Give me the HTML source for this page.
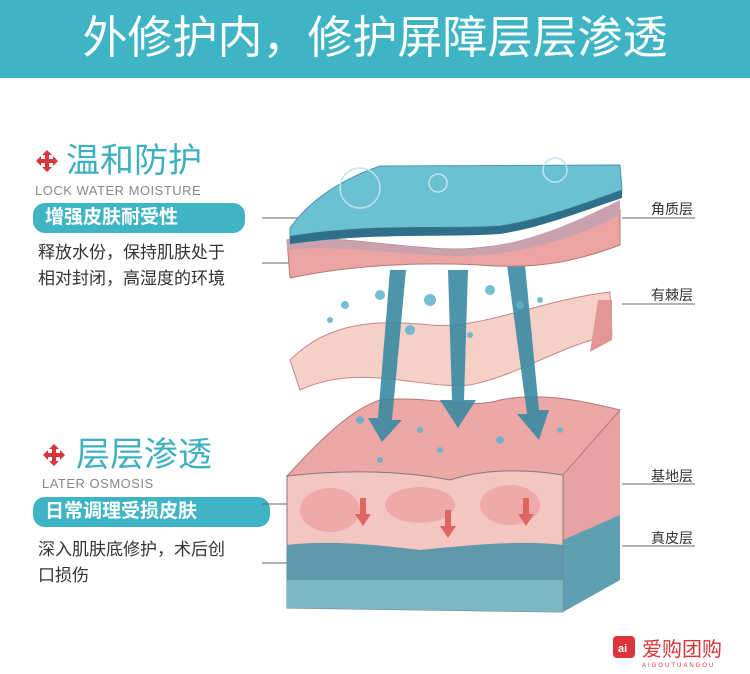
<!DOCTYPE html>
<html><head><meta charset="utf-8"><style>
body{margin:0;width:750px;height:674px;background:#fff;overflow:hidden;position:relative;font-family:"Liberation Sans","Noto Sans CJK SC",sans-serif}
.hdr{position:absolute;left:0;top:0;width:750px;height:78px;background:#3fb4c4;color:#fff;font-size:45px;text-align:center;line-height:76px;letter-spacing:0}
.t{position:absolute;color:#3fb0c0;font-size:34px;line-height:40px}
.en{position:absolute;color:#888;font-size:13px;letter-spacing:.5px}
.pill{position:absolute;background:#3fb4c4;color:#fff;font-size:19px;border-radius:12px;height:30px;line-height:30px;padding-left:12px;font-weight:bold}
.body{position:absolute;color:#333;font-size:17px;line-height:26px}
.lab{position:absolute;color:#333;font-size:14px}
.cross{position:absolute;width:24px;height:24px}
</style></head><body>
<div class="hdr">外修护内，修护屏障层层渗透</div>
<svg class="cross" style="left:35px;top:149px" viewBox="0 0 24 24"><path d="M12 1l5 5h-3v4h4V7l5 5-5 5v-3h-4v4h3l-5 5-5-5h3v-4H6v3l-5-5 5-5v3h4V6H7z" fill="#d9353a"/></svg>
<div class="t" style="left:66px;top:141px">温和防护</div>
<div class="en" style="left:35px;top:183px">LOCK WATER MOISTURE</div>
<div class="pill" style="left:33px;top:203px;width:200px">增强皮肤耐受性</div>
<div class="body" style="left:38px;top:240px">释放水份，保持肌肤处于<br>相对封闭，高湿度的环境</div>
<svg class="cross" style="left:42px;top:443px" viewBox="0 0 24 24"><path d="M12 1l5 5h-3v4h4V7l5 5-5 5v-3h-4v4h3l-5 5-5-5h3v-4H6v3l-5-5 5-5v3h4V6H7z" fill="#d9353a"/></svg>
<div class="t" style="left:76px;top:435px">层层渗透</div>
<div class="en" style="left:42px;top:476px">LATER OSMOSIS</div>
<div class="pill" style="left:33px;top:497px;width:225px">日常调理受损皮肤</div>
<div class="body" style="left:38px;top:537px">深入肌肤底修护，术后创<br>口损伤</div>
<div class="lab" style="left:651px;top:199px">角质层</div>
<div class="lab" style="left:651px;top:285px">有棘层</div>
<div class="lab" style="left:651px;top:466px">基地层</div>
<div class="lab" style="left:651px;top:528px">真皮层</div>
<svg style="position:absolute;left:0;top:0" width="750" height="674">
<g stroke="#666" stroke-width="1"><line x1="262" y1="218" x2="316" y2="218"/><line x1="262" y1="263" x2="316" y2="263"/><line x1="622" y1="218" x2="695" y2="218"/><line x1="622" y1="304" x2="695" y2="304"/><line x1="622" y1="484" x2="695" y2="484"/><line x1="622" y1="546" x2="695" y2="546"/><line x1="262" y1="504" x2="315" y2="504"/><line x1="262" y1="563" x2="315" y2="563"/></g>
<path d="M563 415 L620 410 L620 580 L563 612 Z" fill="#e7a3a3"/>
<path d="M563 540 L620 515 L620 580 L563 612 Z" fill="#5e9fb2"/>
<path d="M287 476 C320 440 350 410 380 400 C430 395 470 410 500 400 C540 392 580 400 620 410 L563 475 C520 468 480 470 450 480 C400 470 340 470 287 476Z" fill="#eda7a7" stroke="#b07a7a" stroke-width="1"/>
<path d="M287 476 C340 470 400 470 450 480 C480 470 520 468 563 475 L563 612 L287 608 Z" fill="#f4c6c2" stroke="#8a7a7a"/>
<ellipse cx="330" cy="510" rx="30" ry="22" fill="#eeaaa8"/><ellipse cx="420" cy="505" rx="35" ry="18" fill="#eeaaa8"/><ellipse cx="510" cy="505" rx="30" ry="20" fill="#eeaaa8"/>
<path d="M287 545 C330 540 380 545 420 550 C470 545 520 540 563 545 L563 580 L287 580Z" fill="#5f98ab"/>
<path d="M287 580 L563 580 L563 612 L287 608Z" fill="#7ab8c6"/>
<g fill="#e06464"><path d="M360 498h6v16h5l-8 12-8-12h5z"/><path d="M445 510h6v16h5l-8 12-8-12h5z"/><path d="M523 498h6v16h5l-8 12-8-12h5z"/></g>
<path d="M290 360 C330 320 380 320 430 325 C480 330 540 300 610 292 L612 335 C560 345 520 375 470 385 C420 390 360 362 300 390 Z" fill="#f6cfc7" stroke="#c08a8a"/>
<path d="M598 300 L612 300 L612 340 L590 352Z" fill="#e49696"/>
<g fill="#3a8aa3" opacity=".9"><path d="M390 270h16l-14 150h10l-20 22-14-24h10z"/><path d="M448 270h20l-4 130h12l-18 28-18-28h12z"/><path d="M507 265h18l14 145h10l-10 30-22-26h10z"/></g>
<path d="M287 240 C330 235 380 245 430 248 C500 255 560 230 620 210 L620 245 C580 260 540 270 480 265 C420 262 350 265 290 278 Z" fill="#eca4a2" stroke="#b07a7a"/>
<path d="M287 240 C330 235 380 245 430 248 C500 255 560 230 620 200 L620 215 C560 245 500 260 430 255 C380 252 330 245 287 250Z" fill="#c9a2ad"/>
<path d="M290 228 C310 200 340 180 380 166 L620 165 L622 190 C580 205 540 220 500 226 C440 230 380 222 290 240 Z" fill="#6bc1d3" stroke="#4a96aa"/>
<path d="M290 236 C380 222 440 230 500 226 C540 220 580 205 622 190 L622 198 C580 212 540 228 500 234 C440 238 380 232 290 244Z" fill="#2f6f8a"/>
<g fill="#5db3cc" opacity=".85"><circle cx="380" cy="295" r="5"/><circle cx="345" cy="305" r="4"/><circle cx="430" cy="300" r="6"/><circle cx="490" cy="290" r="5"/><circle cx="520" cy="305" r="4"/><circle cx="330" cy="320" r="3"/><circle cx="410" cy="330" r="5"/><circle cx="470" cy="335" r="3"/><circle cx="540" cy="300" r="3"/><circle cx="360" cy="420" r="4"/><circle cx="420" cy="430" r="3"/><circle cx="500" cy="440" r="4"/><circle cx="560" cy="430" r="3"/><circle cx="440" cy="450" r="3"/><circle cx="380" cy="460" r="3"/></g>
<g stroke="#bfe7ee" fill="none" stroke-width="1.5"><circle cx="360" cy="188" r="20"/><circle cx="438" cy="183" r="9"/><circle cx="555" cy="170" r="12"/></g>
<rect x="613" y="636" width="22" height="22" rx="4" fill="#d9353a"/>
<text x="618" y="652" font-size="11" fill="#fff" font-weight="bold">ai</text>
<text x="642" y="656" font-size="20" fill="#d9353a" font-family="Noto Sans CJK SC,sans-serif">爱购团购</text>
<text x="642" y="667" font-size="6" fill="#d9353a" letter-spacing="2">AIGOUTUANGOU</text>
</svg>
</body></html>
